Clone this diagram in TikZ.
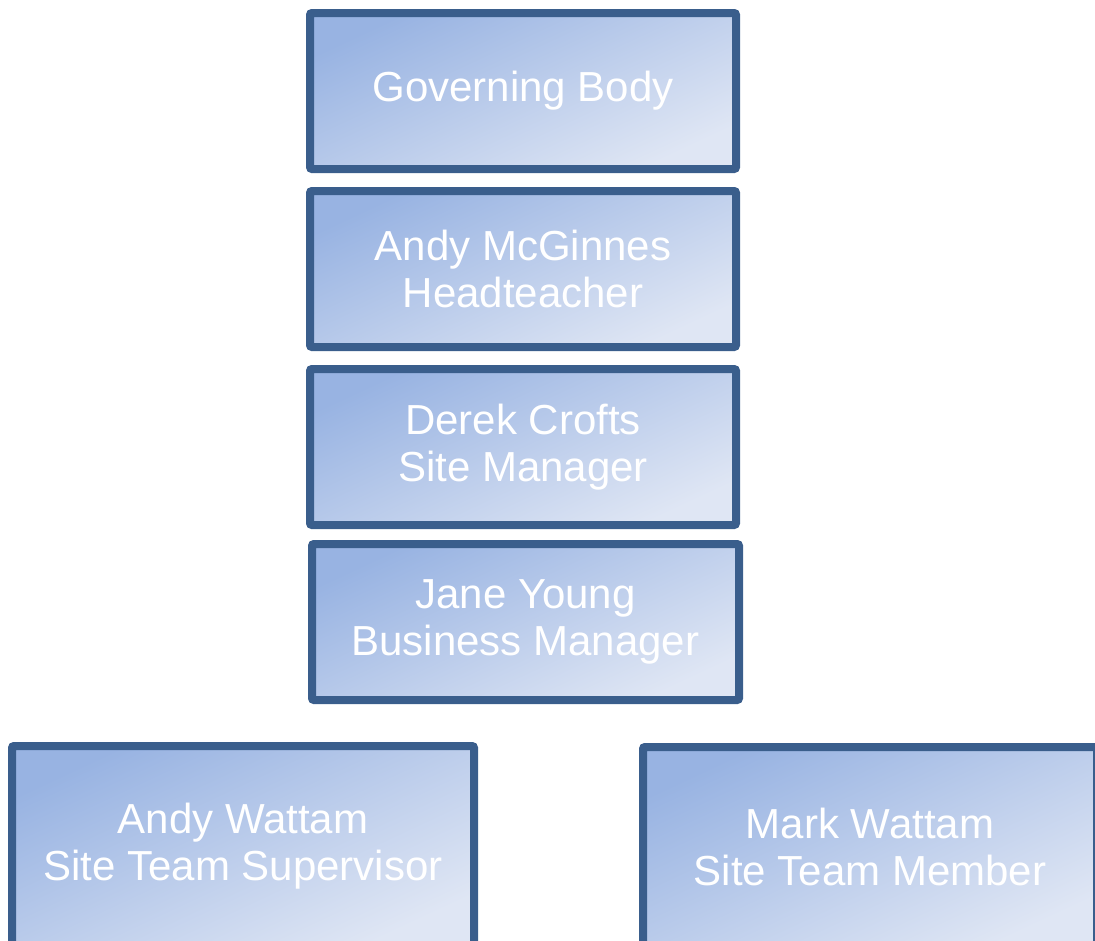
\documentclass[tikz,border=0pt]{standalone}
\usepackage{fontspec}
\setmainfont{Liberation Sans}
\usepackage{tikz}

\definecolor{boxline}{HTML}{3A5E8C}
\definecolor{boxdark}{HTML}{98B3E2}
\definecolor{boxlight}{HTML}{DFE6F4}

\begin{document}
\begin{tikzpicture}[x=1pt, y=-1pt,
    orgbox/.style={draw=boxline, line width=8pt, rounded corners=2pt,
      top color=boxdark, bottom color=boxlight, shading angle=25,
      text=white, align=center, inner sep=0pt,
      font=\fontsize{42}{47}\selectfont}]
    \useasboundingbox (0,0) rectangle (1095,940);
    \clip (0,0) rectangle (1095,940);

    % Nodes
    \node[orgbox, minimum width=426pt, minimum height=156pt] (gov) at (523,91) {Governing Body};
    \node[orgbox, minimum width=426pt, minimum height=156pt] (head) at (523,269) {Andy McGinnes\\Headteacher};
    \node[orgbox, minimum width=426pt, minimum height=156pt] (site) at (523,447) {Derek Crofts\\Site Manager};
    \node[orgbox, minimum width=427pt, minimum height=156pt] (bus) at (525.5,622) {Jane Young\\Business Manager};
    \node[orgbox, minimum width=462pt, minimum height=200pt] (sup) at (243,846) {Andy Wattam\\Site Team Supervisor};
    \node[orgbox, minimum width=454pt, minimum height=200pt] (mem) at (870,847) {Mark Wattam\\Site Team Member};
  \end{tikzpicture}
\end{document}
